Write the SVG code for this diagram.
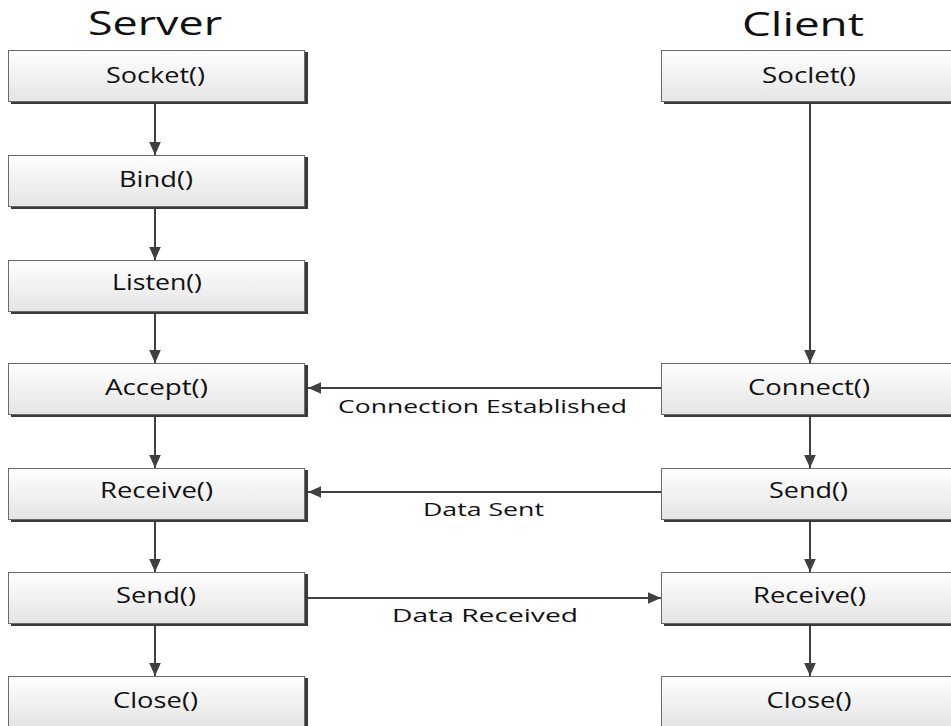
<svg xmlns="http://www.w3.org/2000/svg" width="951" height="726" viewBox="0 0 951 726">
<defs>
<linearGradient id="g" x1="0" y1="0" x2="0" y2="1">
<stop offset="0" stop-color="#ffffff"/>
<stop offset="1" stop-color="#e4e4e4"/>
</linearGradient>
<marker id="ah" viewBox="0 0 10 10" refX="10" refY="5" markerWidth="13" markerHeight="13" markerUnits="userSpaceOnUse" orient="auto">
<path d="M0,0.5 L10,5 L0,9.5 Z" fill="#404040"/>
</marker>
</defs>
<style>
.sh{fill:#3a3a3a}
.bx{fill:url(#g);stroke:#6a6a6a;stroke-width:1}
.t{font-family:"Open Sans","Liberation Sans",sans-serif;font-size:21px;fill:#111;text-anchor:middle}
.h{font-family:"Open Sans","Liberation Sans",sans-serif;font-size:32px;fill:#111;text-anchor:middle}
.l{font-family:"Open Sans","Liberation Sans",sans-serif;font-size:19px;fill:#111;text-anchor:middle}
.c{stroke:#404040;stroke-width:2;fill:none;marker-end:url(#ah)}
</style>
<rect width="951" height="726" fill="#fff"/>
<text class="h" x="155" y="35" textLength="134" lengthAdjust="spacingAndGlyphs">Server</text>
<text class="h" x="803" y="36" textLength="122" lengthAdjust="spacingAndGlyphs">Client</text>
<g id="connectors">
<line class="c" x1="155" y1="102" x2="155" y2="155"/>
<line class="c" x1="155" y1="207" x2="155" y2="260"/>
<line class="c" x1="155" y1="312" x2="155" y2="363"/>
<line class="c" x1="155" y1="415" x2="155" y2="468"/>
<line class="c" x1="155" y1="520" x2="155" y2="572"/>
<line class="c" x1="155" y1="624" x2="155" y2="676"/>
<line class="c" x1="810" y1="102" x2="810" y2="363"/>
<line class="c" x1="810" y1="415" x2="810" y2="468"/>
<line class="c" x1="810" y1="520" x2="810" y2="572"/>
<line class="c" x1="810" y1="624" x2="810" y2="676"/>
<line class="c" x1="661" y1="388" x2="308" y2="388"/>
<line class="c" x1="661" y1="492" x2="308" y2="492"/>
<line class="c" x1="308" y1="598" x2="661" y2="598"/>
<text class="l" x="482.5" y="413" textLength="289" lengthAdjust="spacingAndGlyphs">Connection Established</text>
<text class="l" x="483.5" y="516" textLength="121" lengthAdjust="spacingAndGlyphs">Data Sent</text>
<text class="l" x="485" y="622" textLength="186" lengthAdjust="spacingAndGlyphs">Data Received</text>
</g>
<g id="s-socket"><rect class="sh" x="11" y="52" width="297" height="52"/><rect class="bx" x="8.5" y="50.5" width="296" height="51"/><text class="t" x="155.5" y="83" textLength="99" lengthAdjust="spacingAndGlyphs">Socket()</text></g>
<g id="s-bind"><rect class="sh" x="11" y="157" width="297" height="52"/><rect class="bx" x="8.5" y="155.5" width="296" height="51"/><text class="t" x="156" y="187" textLength="74" lengthAdjust="spacingAndGlyphs">Bind()</text></g>
<g id="s-listen"><rect class="sh" x="11" y="262" width="297" height="52"/><rect class="bx" x="8.5" y="260.5" width="296" height="51"/><text class="t" x="157" y="290" textLength="90" lengthAdjust="spacingAndGlyphs">Listen()</text></g>
<g id="s-accept"><rect class="sh" x="11" y="365" width="297" height="52"/><rect class="bx" x="8.5" y="363.5" width="296" height="51"/><text class="t" x="156.5" y="395" textLength="103" lengthAdjust="spacingAndGlyphs">Accept()</text></g>
<g id="s-receive"><rect class="sh" x="11" y="470" width="297" height="52"/><rect class="bx" x="8.5" y="468.5" width="296" height="51"/><text class="t" x="156.5" y="498" textLength="113" lengthAdjust="spacingAndGlyphs">Receive()</text></g>
<g id="s-send"><rect class="sh" x="11" y="574" width="297" height="52"/><rect class="bx" x="8.5" y="572.5" width="296" height="51"/><text class="t" x="156" y="603" textLength="80" lengthAdjust="spacingAndGlyphs">Send()</text></g>
<g id="s-close"><rect class="sh" x="11" y="678" width="297" height="52"/><rect class="bx" x="8.5" y="676.5" width="296" height="51"/><text class="t" x="155.5" y="708" textLength="85" lengthAdjust="spacingAndGlyphs">Close()</text></g>
<g id="c-socket"><rect class="sh" x="664" y="52" width="300" height="52"/><rect class="bx" x="661.5" y="50.5" width="300" height="51"/><text class="t" x="809" y="83" textLength="94" lengthAdjust="spacingAndGlyphs">Soclet()</text></g>
<g id="c-connect"><rect class="sh" x="664" y="365" width="300" height="52"/><rect class="bx" x="661.5" y="363.5" width="300" height="51"/><text class="t" x="809" y="395" textLength="122" lengthAdjust="spacingAndGlyphs">Connect()</text></g>
<g id="c-send"><rect class="sh" x="664" y="470" width="300" height="52"/><rect class="bx" x="661.5" y="468.5" width="300" height="51"/><text class="t" x="808.5" y="498" textLength="79" lengthAdjust="spacingAndGlyphs">Send()</text></g>
<g id="c-receive"><rect class="sh" x="664" y="574" width="300" height="52"/><rect class="bx" x="661.5" y="572.5" width="300" height="51"/><text class="t" x="809.5" y="603" textLength="113" lengthAdjust="spacingAndGlyphs">Receive()</text></g>
<g id="c-close"><rect class="sh" x="664" y="678" width="300" height="52"/><rect class="bx" x="661.5" y="676.5" width="300" height="51"/><text class="t" x="809" y="708" textLength="85" lengthAdjust="spacingAndGlyphs">Close()</text></g>
</svg>
